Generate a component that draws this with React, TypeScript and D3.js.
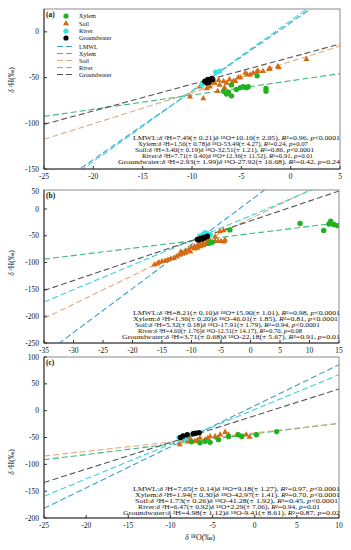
import React from "react";
import * as d3 from "d3";

type Pt = [number, number];

// ---------- DATA ----------
const seriesNames = ["LMWL", "Xylem", "Soil", "River", "Groundwater"];

// Panel (a)
const soilA: Pt[] = [[-10.2,-71],[-8.85,-73],[-8.5,-62],[-8.2,-60],[-8.0,-56],[-7.7,-56],[-7.4,-65],[-7.2,-58],[-7.3,-53],[-6.8,-54],[-6.7,-61],[-6.5,-56],[-6.2,-52],[-5.8,-54],[-5.6,-54],[-5.3,-50],[-5.1,-50],[-4.6,-45],[-4.4,-47],[-4.1,-47],[-3.8,-45],[-3.4,-43],[-3.3,-43],[-2.8,-43],[-2.2,-41],[-2.1,-40],[-1.3,-38],[-1.2,-39],[1.6,-30],[-9.2,-60],[-6.0,-57]];
const xylemA: Pt[] = [[-6.8,-65],[-6.5,-68],[-6.0,-70],[-6.0,-58],[-5.5,-63],[-5.1,-61],[-4.8,-60],[-4.3,-60],[-3.4,-48],[-2.5,-62],[-2.5,-65],[-6.3,-66],[-4.5,-61]];
const riverA: Pt[] = [[-7.6,-44],[-7.2,-43],[-9.0,-58]];
const gwA: Pt[] = [[-8.7,-54],[-8.4,-52],[-8.2,-53],[-8.0,-51],[-8.5,-56],[-7.9,-52],[-8.3,-55]];
const slopesA = [7.49, 1.56, 3.40, 7.71, 2.93];
const slopeSeA = [0.21, 0.78, 0.19, 0.40, 1.99];
const interceptsA = [10.10, -53.49, -32.51, 12.36, -27.92];
const interceptSeA = [2.05, 4.27, 1.21, 11.52, 16.68];
const r2A = ["0.96", "0.24", "0.86", "0.91", "0.42"];
const pA = ["<0.0001", "=0.07", "<0.0001", "=0.01", "=0.24"];

// Panel (b)
const soilB: Pt[] = [[-16.3,-104],[-15.8,-102],[-15.5,-100],[-15,-98],[-14.5,-97],[-14,-95],[-13.5,-93],[-13,-92],[-12.5,-89],[-12,-86],[-11.8,-80],[-11.5,-84],[-11,-78],[-11,-82],[-10.5,-76],[-10.2,-80],[-10,-72],[-9.5,-74],[-9.5,-70],[-9,-68],[-9,-73],[-8.5,-66],[-8.5,-70],[-8,-64],[-8,-68],[-7.5,-63],[-7.5,-66],[-7,-62],[-6.5,-62],[-6,-60],[-5.5,-60],[-5,-60],[-4.5,-61],[-4.3,-58],[-5.2,-42],[-4.6,-40],[-6,-52],[-7,-58]];
const xylemB: Pt[] = [[-7,-64],[-6.5,-62],[-3.5,-39],[8.4,-27],[12.4,-40],[13.6,-23],[13.3,-28],[14.1,-29],[14.7,-31]];
const riverB: Pt[] = [[-8,-47],[-7.3,-46],[-6.8,-48],[-8.6,-50],[-7.7,-44]];
const gwB: Pt[] = [[-9,-57],[-8.5,-55],[-8,-53],[-7.5,-52],[-8.8,-58],[-8.2,-56],[-7.8,-54],[-7.3,-51]];
const slopesB = [8.21, 1.36, 5.32, 4.60, 3.71];
const slopeSeB = [0.10, 0.20, 0.18, 1.76, 0.68];
const interceptsB = [15.90, -46.01, -17.91, -12.51, -22.18];
const interceptSeB = [1.01, 1.85, 1.79, 14.17, 5.67];
const r2B = ["0.98", "0.81", "0.94", "0.70", "0.91"];
const pB = ["<0.0001", "<0.0001", "<0.0001", "=0.08", "=0.01"];

// Panel (c)
const soilC: Pt[] = [[-8.9,-63],[-8.3,-54],[-7.7,-51],[-7.1,-57],[-6.5,-51],[-5.9,-54],[-5.3,-48],[-4.7,-48],[-4.1,-45],[-3.5,-40],[-3.1,-45],[-2.1,-45],[-1.0,-45],[-0.6,-49],[-8.0,-58],[-6.8,-55],[-5.6,-52],[-4.4,-51]];
const xylemC: Pt[] = [[-6.5,-60],[-5.9,-57],[-5.3,-59],[-4.3,-54],[-3.1,-48],[-1.95,-45],[-1.55,-48],[0.2,-45],[2.6,-39],[-7.5,-58]];
const riverC: Pt[] = [[-9,-50],[-8.5,-48],[-8.2,-52],[-7.9,-46]];
const gwC: Pt[] = [[-8.5,-47],[-8,-45],[-7.3,-43],[-7,-42],[-8.8,-50],[-6.6,-41]];
const slopesC = [7.65, 1.94, 1.73, 6.47, 4.98];
const slopeSeC = [0.14, 0.30, 0.26, 0.92, 1.12];
const interceptsC = [9.18, -42.97, -41.28, 2.29, -9.41];
const interceptSeC = [1.27, 1.41, 1.92, 7.06, 8.61];
const r2C = ["0.97", "0.70", "0.45", "0.94", "0.87"];
const pC = ["<0.0001", "<0.0001", "<0.0001", "=0.01", "=0.02"];

const xTicksA = [-25, -20, -15, -10, -5, 0, 5];
const yTicksA = [0, -50, -100, -150];
const xTicksB = [-35, -30, -25, -20, -15, -10, -5, 0, 5, 10, 15];
const yTicksB = [0, -50, -100, -150, -200, -250];
const xTicksC = [-25, -20, -15, -10, -5, 0, 5, 10];
const yTicksC = [100, 50, 0, -50, -100, -150, -200];

// ---------- STYLE ----------
const lineColors = ["#3c9fd2", "#3cb878", "#e2aa7c", "#38d4d4", "#555555"];
const markColors = { xylem: "#1fb21f", soil: "#d46a12", river: "#36e4e4", gw: "#000000" };
const FONT = "'Liberation Serif', 'Times New Roman', serif";

type Panel = {
  label: string;
  xDom: [number, number]; yDom: [number, number];
  left: number; right: number; top: number; bottom: number;
  xTicks: number[]; yTicks: number[]; extraTop?: string;
  soil: Pt[]; xylem: Pt[]; river: Pt[]; gw: Pt[];
  slopes: number[]; slopeSe: number[]; intercepts: number[]; interceptSe: number[]; r2: string[]; p: string[];
  eqY: number[]; eqX: [number, number][];
  yLabelY: number;
};

const panels: Panel[] = [
  { label: "(a)", xDom: [-25, 5], yDom: [-150, 25], left: 44, right: 340, top: 9, bottom: 169,
    xTicks: xTicksA, yTicks: yTicksA, soil: soilA, xylem: xylemA, river: riverA, gw: gwA,
    slopes: slopesA, slopeSe: slopeSeA, intercepts: interceptsA, interceptSe: interceptSeA, r2: r2A, p: pA,
    eqY: [139.5, 145.5, 151.5, 157.5, 163.5], eqX: [[133, 340], [138, 308], [135, 314], [142, 313], [118, 340]], yLabelY: 80 },
  { label: "(b)", xDom: [-35, 15], yDom: [-250, 35.4], left: 44, right: 339, top: 190, bottom: 343,
    xTicks: xTicksB, yTicks: yTicksB, extraTop: "50", soil: soilB, xylem: xylemB, river: riverB, gw: gwB,
    slopes: slopesB, slopeSe: slopeSeB, intercepts: interceptsB, interceptSe: interceptSeB, r2: r2B, p: pB,
    eqY: [314.5, 320.5, 326.5, 332.5, 338.5], eqX: [[133, 340], [133, 338], [135, 320], [138, 302], [122, 340]], yLabelY: 263 },
  { label: "(c)", xDom: [-25, 10], yDom: [-200, 100], left: 44, right: 339, top: 357, bottom: 518,
    xTicks: xTicksC, yTicks: yTicksC, soil: soilC, xylem: xylemC, river: riverC, gw: gwC,
    slopes: slopesC, slopeSe: slopeSeC, intercepts: interceptsC, interceptSe: interceptSeC, r2: r2C, p: pC,
    eqY: [490.5, 496.5, 502.5, 508.5, 514.5], eqX: [[133, 340], [135, 340], [135, 338], [138, 320], [123, 340]], yLabelY: 462 },
];

const triPath = d3.symbol().type(d3.symbolTriangle).size(16)() as string;

function Equation({ x0, x1, y, i, P }: { x0: number; x1: number; y: number; i: number; P: Panel }) {
  const b = P.intercepts[i];
  const sign = b >= 0 ? "+" : "-";
  const s1 = `${seriesNames[i]}:`;
  const s2 = ` \u00B2H=${P.slopes[i].toFixed(2)}(\u00B1 ${P.slopeSe[i].toFixed(2)})`;
  const s3 = ` \u00B9\u2078O${sign}${Math.abs(b).toFixed(2)}(\u00B1 ${P.interceptSe[i].toFixed(2)}), `;
  const s4 = `\u00B2=${P.r2[i]}, `;
  return (
    <text x={x0} y={y} fontSize={5.3} fontFamily={FONT} fill="#111" textLength={x1 - x0} lengthAdjust="spacingAndGlyphs">
      {s1}<tspan fontStyle="italic">δ</tspan>{s2}<tspan fontStyle="italic">δ</tspan>{s3}
      <tspan fontStyle="italic">R</tspan>{s4}<tspan fontStyle="italic">p</tspan>{P.p[i]}
    </text>
  );
}

function PanelView({ P, idx }: { P: Panel; idx: number }) {
  const x = d3.scaleLinear().domain(P.xDom).range([P.left, P.right]);
  const y = d3.scaleLinear().domain(P.yDom).range([P.bottom, P.top]);
  const clipId = `clip${idx}`;
  const ff = FONT;
  return (
    <g>
      <defs>
        <clipPath id={clipId}>
          <rect x={P.left} y={P.top} width={P.right - P.left} height={P.bottom - P.top} />
        </clipPath>
      </defs>
      <g clipPath={`url(#${clipId})`}>
        {P.slopes.map((s, i) => {
          const [x0, x1] = P.xDom;
          const b = P.intercepts[i];
          return (
            <line key={i} x1={x(x0)} y1={y(s * x0 + b)} x2={x(x1)} y2={y(s * x1 + b)}
              stroke={lineColors[i]} strokeWidth={1.1} strokeDasharray="6,3" />
          );
        })}
        {P.soil.map((d, i) => (
          <path key={"s" + i} d={triPath} transform={`translate(${x(d[0])},${y(d[1])})`} fill={markColors.soil} />
        ))}
        {P.xylem.map((d, i) => (
          <circle key={"x" + i} cx={x(d[0])} cy={y(d[1])} r={2.7} fill={markColors.xylem} />
        ))}
        {P.river.map((d, i) => (
          <circle key={"r" + i} cx={x(d[0])} cy={y(d[1])} r={2.6} fill={markColors.river} />
        ))}
        {P.gw.map((d, i) => (
          <circle key={"g" + i} cx={x(d[0])} cy={y(d[1])} r={2.7} fill={markColors.gw} />
        ))}
      </g>
      <rect x={P.left} y={P.top} width={P.right - P.left} height={P.bottom - P.top} fill="none" stroke="#8a8a8a" strokeWidth={1} />
      <line x1={P.left} y1={P.top} x2={P.left} y2={P.bottom} stroke="#333" strokeWidth={1} />
      <line x1={P.left} y1={P.bottom} x2={P.right} y2={P.bottom} stroke="#333" strokeWidth={1} />
      {P.xTicks.map((t) => (
        <g key={"xt" + t}>
          <line x1={x(t)} x2={x(t)} y1={P.bottom} y2={P.bottom - 3} stroke="#333" />
          <text x={x(t)} y={P.bottom + 10} fontSize={7.5} fontFamily={ff} textAnchor="middle" fill="#111">{t}</text>
        </g>
      ))}
      {P.yTicks.map((t) => (
        <g key={"yt" + t}>
          <line x1={P.left} x2={P.left + 3} y1={y(t)} y2={y(t)} stroke="#333" />
          <text x={P.left - 5} y={y(t) + 2.6} fontSize={7.5} fontFamily={ff} textAnchor="end" fill="#111">{t}</text>
        </g>
      ))}
      {P.extraTop && (
        <text x={P.left - 5} y={P.top + 4} fontSize={7.5} fontFamily={ff} textAnchor="end" fill="#111">{P.extraTop}</text>
      )}
      <text x={P.left + 2} y={P.top + 8} fontSize={7.5} fontWeight="bold" fontFamily={ff} fill="#111">{P.label}</text>
      <text transform={`translate(14,${P.yLabelY}) rotate(-90)`} fontSize={7.5} fontFamily={ff} textAnchor="middle" fill="#111">
        <tspan fontStyle="italic">δ</tspan> {"\u00B2H(\u2030)"}
      </text>
      {seriesNames.map((_, i) => (
        <Equation key={"eq" + i} x0={P.eqX[i][0]} x1={P.eqX[i][1]} y={P.eqY[i]} i={i} P={P} />
      ))}
    </g>
  );
}

function Legend() {
  const markerRows = [16, 23.5, 31, 38];
  const lineRows = [46.5, 53.5, 60.5, 67.5, 74.5];
  const markerNames = ["Xylem", "Soil", "River", "Groundwater"];
  const mc = [markColors.xylem, markColors.soil, markColors.river, markColors.gw];
  return (
    <g fontFamily={FONT} fontSize={6.2} fill="#111">
      {markerNames.map((n, i) => (
        <g key={n}>
          {i === 1 ? (
            <path d={triPath} transform={`translate(66,${markerRows[i]})`} fill={mc[i]} />
          ) : (
            <circle cx={66} cy={markerRows[i]} r={2.6} fill={mc[i]} />
          )}
          <text x={79} y={markerRows[i] + 2.2}>{n}</text>
        </g>
      ))}
      {seriesNames.map((n, i) => (
        <g key={"l" + n}>
          <line x1={57} x2={75} y1={lineRows[i]} y2={lineRows[i]} stroke={lineColors[i]} strokeWidth={1.1} strokeDasharray="6,3" />
          <text x={79} y={lineRows[i] + 2.2}>{n}</text>
        </g>
      ))}
    </g>
  );
}

export default function App() {
  return (
    <svg width={351} height={550} style={{ position: "absolute", left: 0, top: 0, background: "#fff" }}>
      <rect x={0} y={0} width={351} height={550} fill="#fff" />
      {panels.map((P, i) => (
        <PanelView key={i} P={P} idx={i} />
      ))}
      <Legend />
      <text x={200} y={540} fontSize={8} fontFamily={FONT} textAnchor="middle" fill="#111">
        <tspan fontStyle="italic">δ</tspan> {"\u00B9\u2078O(\u2030)"}
      </text>
    </svg>
  );
}
